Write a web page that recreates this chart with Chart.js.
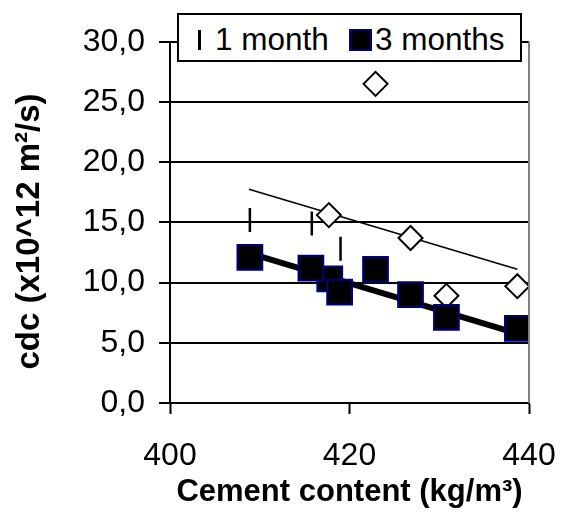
<!DOCTYPE html>
<html>
<head>
<meta charset="utf-8">
<script src="https://cdn.jsdelivr.net/npm/chart.js@4/dist/chart.umd.min.js"></script>
<style>
  html, body { margin: 0; padding: 0; background: #fff; }
  #wrap { position: relative; width: 563px; height: 513px; }
  #legend {
    position: absolute; left: 177px; top: 13px; width: 341px; height: 45px;
    border: 2px solid #000; background: #fff;
    font-family: "Liberation Sans", Arial, sans-serif; font-size: 31.5px; color: #000;
  }
  #legend .item { position: absolute; top: 7px; line-height: 34px; white-space: nowrap; }
  #legend .dash { position: absolute; left: 19px; top: 15px; width: 3px; height: 20px; background: #000; }
  #legend .sq { position: absolute; left: 170px; top: 14px; width: 19px; height: 18px; background: #000; border: 2px solid #000080; }
</style>
</head>
<body>
<div id="wrap">
  <canvas id="c" width="563" height="513"></canvas>
  <div id="legend">
    <span class="dash"></span>
    <span class="item" style="left:36px">1 month</span>
    <span class="sq"></span>
    <span class="item" style="left:196px">3 months</span>
  </div>
</div>
<script>
// ---- data ----
const month1X = [408.9, 415.8, 419.0];
const month1Y = [15.2, 14.9, 12.8];

const month3X = [417.8, 408.9, 415.7, 418.9, 422.9, 426.8, 430.8, 438.7];
const month3Y = [10.3, 12.1, 11.2, 9.2, 11.1, 9.0, 7.1, 6.2];

const openX = [417.7, 422.9, 426.8, 430.8, 438.7];
const openY = [15.6, 26.5, 13.7, 8.9, 9.7];

const trendThinX = [408.8, 438.7];
const trendThinY = [17.75, 11.1];

const trendThickX = [409.0, 439.0];
const trendThickY = [12.4, 5.7];

const xTickValues = [400, 420, 440];
const xTickLabels = ['400', '420', '440'];
const yTickValues = [0, 5, 10, 15, 20, 25, 30];
const yTickLabels = ['0,0', '5,0', '10,0', '15,0', '20,0', '25,0', '30,0'];

const xTitle = 'Cement content (kg/m³)';
const yTitle = 'cdc (x10^12 m²/s)  ';

function pts(xs, ys) { return xs.map((x, i) => ({ x: x, y: ys[i] })); }

const FONT = '"Liberation Sans", Arial, sans-serif';

const rightBorder = {
  id: 'rightBorder',
  afterDatasetsDraw(chart) {
    const { ctx, chartArea: a } = chart;
    ctx.save();
    ctx.strokeStyle = '#808080';
    ctx.lineWidth = 2;
    ctx.beginPath();
    ctx.moveTo(a.right, a.top);
    ctx.lineTo(a.right, a.bottom);
    ctx.stroke();
    ctx.restore();
  }
};

new Chart(document.getElementById('c'), {
  type: 'scatter',
  data: {
    datasets: [
      {
        label: '1 month',
        data: pts(month1X, month1Y),
        pointStyle: 'line', rotation: 90, pointRadius: 12,
        borderColor: '#000', backgroundColor: '#000', borderWidth: 2.5,
        order: 0
      },
      {
        label: '3 months',
        data: pts(month3X, month3Y),
        pointStyle: 'rect', pointRadius: 17.5,
        borderColor: '#000080', backgroundColor: '#000', borderWidth: 2,
        order: 1
      },
      {
        label: 'open',
        data: pts(openX, openY),
        pointStyle: 'rectRot', pointRadius: 12,
        borderColor: '#000', backgroundColor: '#fff', borderWidth: 2,
        order: 2
      },
      {
        label: 'trend thick',
        data: pts(trendThickX, trendThickY),
        showLine: true, pointRadius: 0, borderColor: '#000', borderWidth: 6,
        order: 3
      },
      {
        label: 'trend thin',
        data: pts(trendThinX, trendThinY),
        showLine: true, pointRadius: 0, borderColor: '#000', borderWidth: 1.5,
        order: 4
      }
    ]
  },
  options: {
    responsive: false,
    animation: false,
    layout: { padding: { left: 0, top: 41.7, right: 34, bottom: 0 } },
    plugins: { legend: { display: false }, tooltip: { enabled: false } },
    scales: {
      x: {
        type: 'linear', min: 400, max: 440,
        afterFit: s => { s.height = 110; s.paddingLeft = 0; s.paddingRight = 0; },
        afterBuildTicks: s => { s.ticks = xTickValues.map(v => ({ value: v })); },
        ticks: {
          color: '#000', font: { family: FONT, size: 32 }, padding: 23,
          callback: v => xTickLabels[xTickValues.indexOf(v)]
        },
        grid: { drawOnChartArea: false, drawTicks: true, tickLength: 11, tickWidth: 2, tickColor: '#000' },
        border: { color: '#000', width: 2 },
        title: { display: true, text: xTitle, color: '#000', font: { family: FONT, size: 31, weight: 'bold' }, padding: { top: 0, bottom: 2 } }
      },
      y: {
        type: 'linear', min: 0, max: 30,
        afterFit: s => { s.width = 170; s.paddingTop = 0; s.paddingBottom = 0; },
        afterBuildTicks: s => { s.ticks = yTickValues.map(v => ({ value: v })); },
        ticks: {
          color: '#000', font: { family: FONT, size: 32 }, padding: 14,
          callback: v => yTickLabels[yTickValues.indexOf(v)]
        },
        grid: { color: '#000', lineWidth: 2, drawTicks: true, tickLength: 11, tickColor: '#000' },
        border: { color: '#000', width: 2 },
        title: { display: true, text: yTitle, color: '#000', font: { family: FONT, size: 33, weight: 'bold' }, padding: { top: 10, bottom: 0 } }
      }
    }
  },
  plugins: [rightBorder]
});
</script>
</body>
</html>
